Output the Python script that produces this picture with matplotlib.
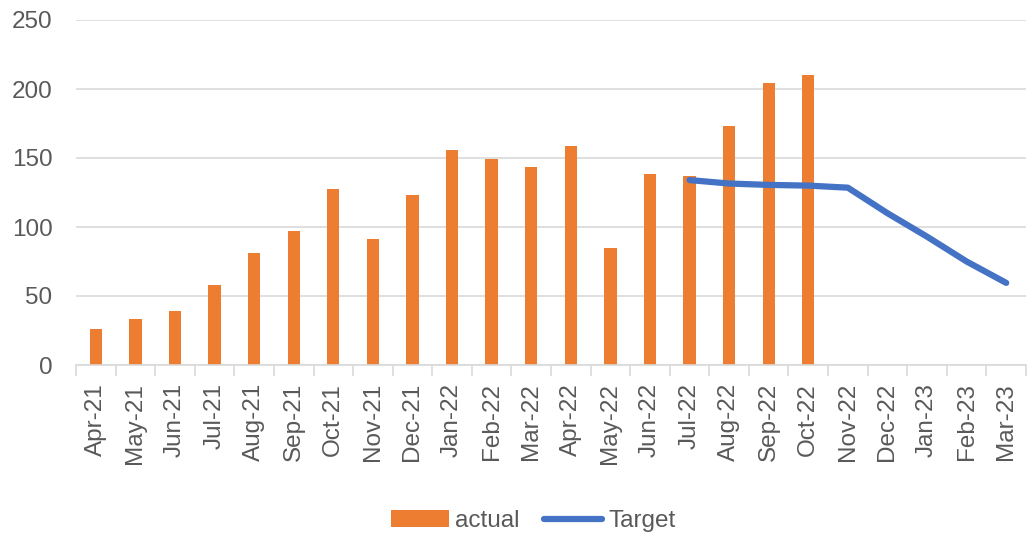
import matplotlib.pyplot as plt
import numpy as np

# monthly data, Apr-21 .. Mar-23
months = ['Apr-21', 'May-21', 'Jun-21', 'Jul-21', 'Aug-21', 'Sep-21', 'Oct-21', 'Nov-21',
          'Dec-21', 'Jan-22', 'Feb-22', 'Mar-22', 'Apr-22', 'May-22', 'Jun-22', 'Jul-22',
          'Aug-22', 'Sep-22', 'Oct-22', 'Nov-22', 'Dec-22', 'Jan-23', 'Feb-23', 'Mar-23']
actual = [26, 33, 39, 58, 81, 97, 127.5, 91.5, 123.5, 155.5, 149, 143.5, 158.5, 85, 138.5, 137,
          173, 204, 210.5, None, None, None, None, None]
target = [None] * 15 + [134, 131.5, 130.5, 130, 128.5, 110, 93, 75, 59.5]

plt.rcParams['font.family'] = ['Liberation Sans', 'DejaVu Sans']
txt = '#595959'
grid = '#d9d9d9'

fig = plt.figure(figsize=(10.27, 5.35), dpi=100, facecolor='white')
ax = fig.add_axes([76 / 1027, 1 - 365 / 535, 950 / 1027, 345 / 535])

x = np.arange(len(months))
bar_vals = [v if v is not None else 0 for v in actual]
bars = ax.bar(x, bar_vals, width=0.31, color='#ed7d31', label='actual', zorder=2)
tx = [i for i, v in enumerate(target) if v is not None]
ty = [v for v in target if v is not None]
line, = ax.plot(tx, ty, color='#4472c4', lw=4.5, solid_capstyle='round', label='Target', zorder=3)

ax.set_xlim(-0.5, len(months) - 0.5)
ax.set_ylim(0, 250)
ax.set_yticks(range(0, 251, 50))
ax.yaxis.grid(True, color=grid, lw=1.2, zorder=0)
ax.set_axisbelow(True)

ax.set_xticks(x)
ax.set_xticklabels(months, rotation=90, fontsize=17.5, color=txt)
ax.set_xticks(np.arange(-0.5, len(months), 1), minor=True)
ax.tick_params(axis='x', which='major', length=0, pad=13)
ax.tick_params(axis='x', which='minor', length=8, color=grid, width=1.2)
ax.tick_params(axis='y', length=0, labelsize=17.5, labelcolor=txt, pad=17)

for s in ['top', 'right', 'left']:
    ax.spines[s].set_visible(False)
ax.spines['bottom'].set_color(grid)
ax.spines['bottom'].set_linewidth(1.2)

leg = fig.legend([bars, line], ['actual', 'Target'], loc='center',
                 bbox_to_anchor=(533 / 1027, 1 - 521 / 535), ncol=2, frameon=False,
                 fontsize=17.5, handlelength=2.4, handleheight=0.66, columnspacing=1.0,
                 handletextpad=0.25)
for t in leg.get_texts():
    t.set_color(txt)

fig.savefig('out.png', dpi=100, facecolor='white')
